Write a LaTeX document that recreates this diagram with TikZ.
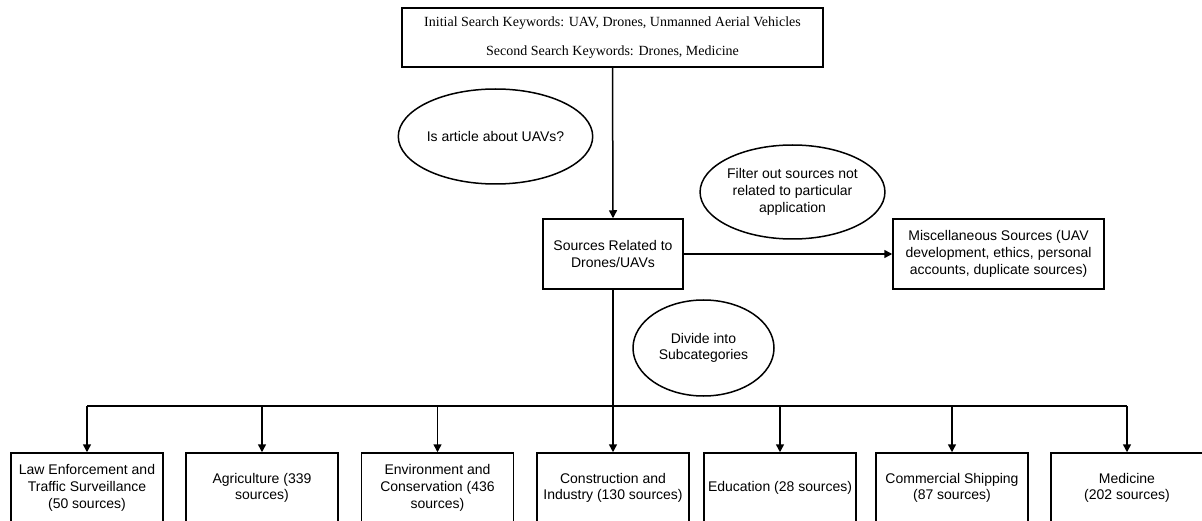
\documentclass[tikz,border=0pt]{standalone}
\usepackage{fontspec}
\setmainfont{Liberation Sans}
\newfontfamily\serifrm{Liberation Serif}
\usetikzlibrary{arrows.meta,shapes.geometric}
\begin{document}
\begin{tikzpicture}[x=1pt,y=-1pt,
  every node/.style={font=\fontsize{14}{16.7}\selectfont, align=center, inner sep=0pt, line width=1.5pt},
  box/.style={draw, rectangle, minimum height=70pt},
  oval/.style={draw, ellipse},
  conn/.style={line width=1.5pt},
  arr/.style={conn, -{Triangle[length=8pt,width=8pt]}}]
\useasboundingbox (0,0) rectangle (1202,521);
\node[box, minimum width=421pt, minimum height=59pt, font=\serifrm\fontsize{14}{29}\selectfont] (top) at (612.5,37.5)
  {Initial Search Keywords: UAV, Drones, Unmanned Aerial Vehicles\\Second Search Keywords: Drones, Medicine};
\node[oval, minimum width=165pt, minimum height=95pt] (q1) at (495.5,136.5) {Is article about UAVs?};
\node[box, minimum width=140pt] (src) at (613,254) {Sources Related to\\Drones/UAVs};
\node[oval, minimum width=165pt, minimum height=94pt] (filt) at (792.5,192) {Filter out sources not\\related to particular\\application};
\node[box, minimum width=211pt] (misc) at (998.5,254) {Miscellaneous Sources (UAV\\development, ethics, personal\\accounts, duplicate sources)};
\node[oval, minimum width=141pt, minimum height=96pt] (div) at (703.5,348) {Divide into\\Subcategories};
\node[box, minimum width=152pt] (b1) at (87,488) {Law Enforcement and\\Traffic Surveillance\\(50 sources)};
\node[box, minimum width=152pt] (b2) at (262,488) {Agriculture (339\\sources)};
\node[box, minimum width=152pt] (b3) at (437.5,488) {Environment and\\Conservation (436\\sources)};
\node[box, minimum width=152pt] (b4) at (613,488) {Construction and\\Industry (130 sources)};
\node[box, minimum width=152pt] (b5) at (780,488) {Education (28 sources)};
\node[box, minimum width=152pt] (b6) at (952,488) {Commercial Shipping\\(87 sources)};
\node[box, minimum width=152pt] (b7) at (1127,488) {Medicine\\(202 sources)};
\coordinate (bus) at (613,406);
\draw[arr] (top.south) -- (src.north);
\draw[arr] (src.east) -- (misc.west);
\draw[arr] (src.south) -- (b4.north);
\draw[conn] (b1.north |- bus) -- (b7.north |- bus);
\foreach \b in {b1,b2,b3,b5,b6,b7} {\draw[arr] (\b.north |- bus) -- (\b.north);}
\end{tikzpicture}
\end{document}
